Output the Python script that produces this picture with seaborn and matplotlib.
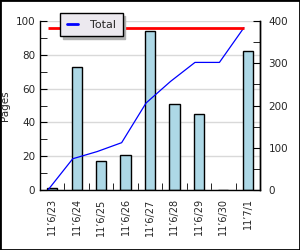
import numpy as np
import pandas as pd
import matplotlib
matplotlib.use("Agg")
import matplotlib.pyplot as plt
from matplotlib.patches import Rectangle
from matplotlib.ticker import MultipleLocator, FixedLocator
import seaborn as sns

dates = ["11’6/23", "11’6/24", "11’6/25", "11’6/26", "11’6/27",
         "11’6/28", "11’6/29", "11’6/30", "11’7/1"]
pages = [1, 73, 17, 21, 94, 51, 45, 0, 82]
total = np.cumsum(pages)
target = 384

sns.set_style("white")
plt.rcParams['font.family'] = ['DejaVu Sans']
plt.rcParams['font.size'] = 7

df = pd.DataFrame({"date": dates, "pages": pages, "total": total})
df["pos"] = np.arange(len(dates)) - 0.16

fig = plt.figure(figsize=(3.0, 2.5), dpi=100)
ax = fig.add_axes([40/300, 1-190/250, 220/300, 169/250])

sns.barplot(data=df, x="date", y="pages", ax=ax, color="#ADD8E6",
            saturation=1, width=0.42, edgecolor="black", linewidth=1)
ax.set_xlim(-0.5, len(dates) - 0.5)
ax.set_ylim(0, 100)
ax.set_yticks([0, 20, 40, 60, 80, 100])
ax.yaxis.set_minor_locator(MultipleLocator(10))
ax.set_xticks(range(len(dates)))
ax.set_xticklabels(dates, rotation=90, fontsize=7)
ax.xaxis.set_minor_locator(FixedLocator(np.arange(0.5, len(dates) - 1, 1)))
ax.tick_params(axis='x', which='major', length=0, pad=6)
ax.tick_params(axis='x', which='minor', direction='in', length=5, color='black', bottom=True)
ax.tick_params(axis='y', which='both', direction='in', length=5, color='black', left=True, labelsize=7.5)
ax.set_xlabel("")
ax.set_ylabel("Pages", fontsize=7.5, labelpad=4)
ax.yaxis.grid(True, color="#d9d9d9", linewidth=1)
ax.set_axisbelow(True)
for s in ["left", "bottom", "right"]:
    ax.spines[s].set_color("black")
    ax.spines[s].set_linewidth(1)
ax.spines["top"].set_visible(False)

ax2 = ax.twinx()
sns.lineplot(data=df, x="pos", y="total", ax=ax2, color="blue", linewidth=0.9, label="Total")
ax2.hlines(target, df["pos"].iloc[0], df["pos"].iloc[-1], color="red", linewidth=2)
ax2.set_xlim(-0.5, len(dates) - 0.5)
ax2.set_ylim(0, 400)
ax2.set_yticks([0, 100, 200, 300, 400])
ax2.yaxis.set_minor_locator(MultipleLocator(50))
ax2.tick_params(axis='y', which='both', direction='in', length=5, color='black', right=True, labelsize=7.5, pad=6)
ax2.set_ylabel("")
ax2.set_xlabel("")
ax2.spines["top"].set_visible(False)
ax2.spines["right"].set_color("black")
ax2.spines["right"].set_linewidth(1)
ax2.spines["left"].set_visible(False)
ax2.spines["bottom"].set_visible(False)

leg = ax2.legend(loc="upper left", bbox_to_anchor=(60/300, 1-13/250),
                 bbox_transform=fig.transFigure, borderaxespad=0,
                 frameon=True, fancybox=False, shadow={'color': '#b0b0b0', 'alpha': 1},
                 handlelength=1.0, handletextpad=1.1, borderpad=0.6, fontsize=8)
leg.get_frame().set_edgecolor("black")
leg.get_frame().set_facecolor("#ECE9EF")
leg.get_frame().set_linewidth(1)
leg.get_frame().set_alpha(1)
for l in leg.get_lines():
    l.set_linewidth(2)

fig.patches.append(Rectangle((0, 0), 1, 1, transform=fig.transFigure,
                             fill=False, edgecolor="black", linewidth=2))

fig.savefig("out.png", dpi=100, facecolor="white")
